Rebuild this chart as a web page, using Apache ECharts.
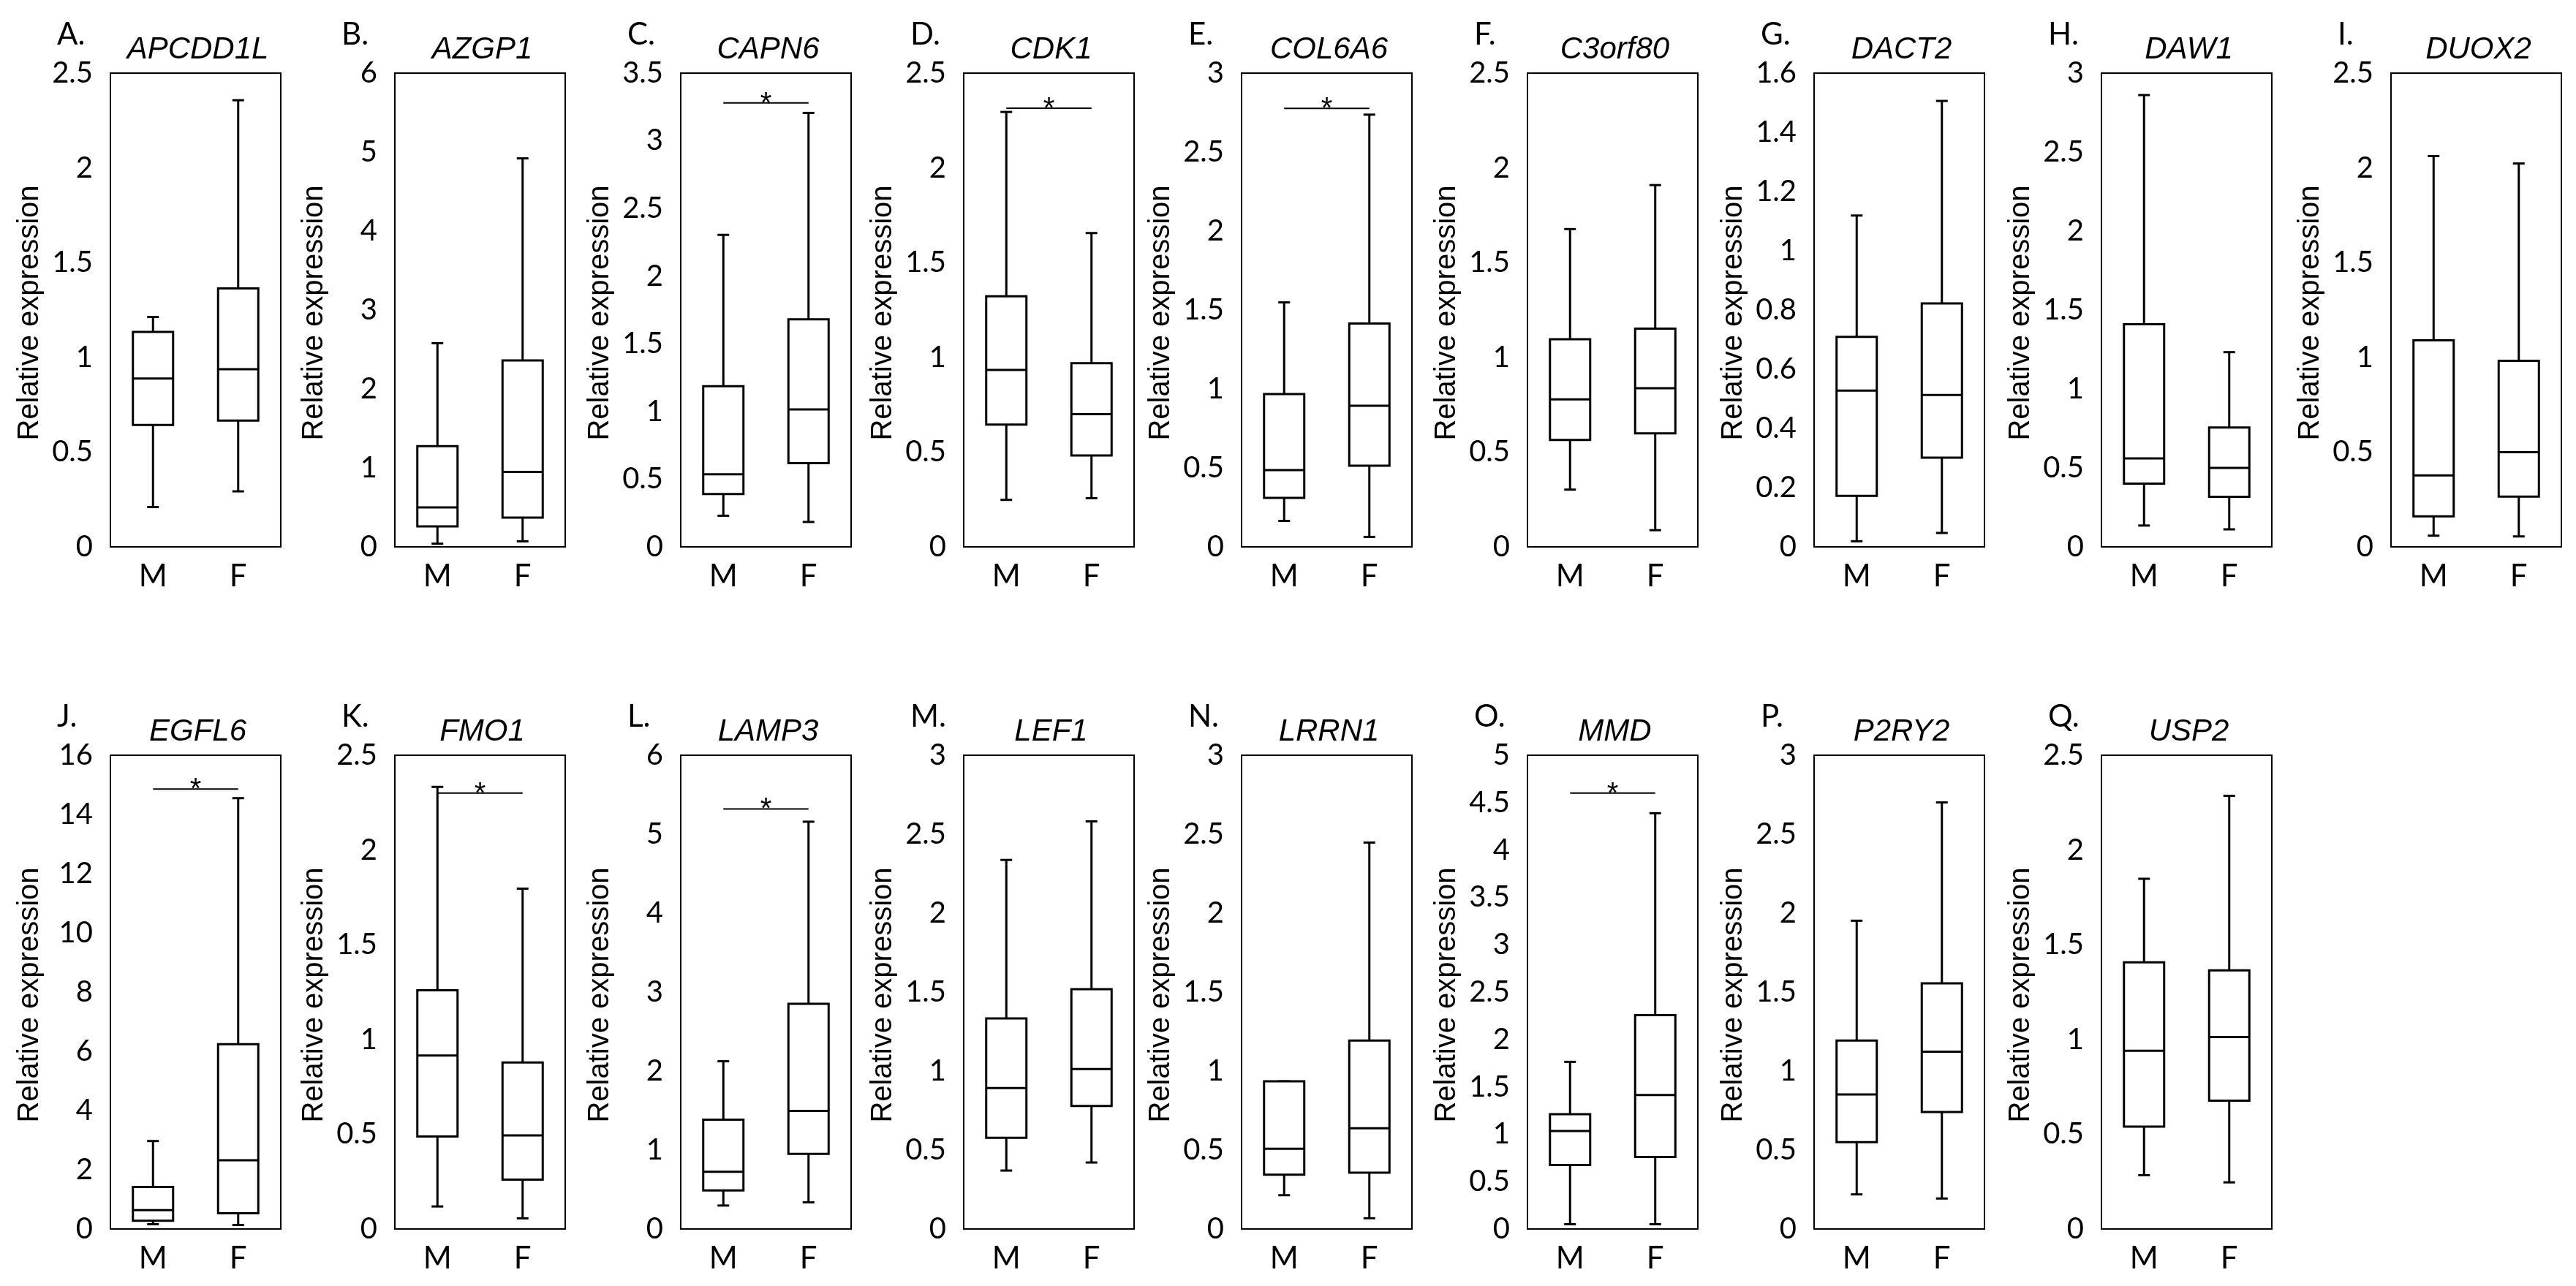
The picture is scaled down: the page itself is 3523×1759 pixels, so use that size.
<!DOCTYPE html>
<html>
<head>
<meta charset="utf-8">
<script src="https://cdn.jsdelivr.net/npm/echarts@6/dist/echarts.min.js"></script>
<style>
html,body{margin:0;padding:0;background:#fff;}
#chart{width:3523px;height:1759px;}
</style>
</head>
<body>
<div id="chart"></div>
<script>
// gene panels, in order A..Q
var letters = ['A','B','C','D','E','F','G','H','I','J','K','L','M','N','O','P','Q'];
var genes = ['APCDD1L','AZGP1','CAPN6','CDK1','COL6A6','C3orf80','DACT2','DAW1','DUOX2',
             'EGFL6','FMO1','LAMP3','LEF1','LRRN1','MMD','P2RY2','USP2'];
var sexes = ['M','F'];

// y axis range per panel
var yMax  = [2.5, 6, 3.5, 2.5, 3, 2.5, 1.6, 3, 2.5, 16, 2.5, 6, 3, 3, 5, 3, 2.5];
var yStep = [0.5, 1, 0.5, 0.5, 0.5, 0.5, 0.2, 0.5, 0.5, 2, 0.5, 1, 0.5, 0.5, 0.5, 0.5, 0.5];

// [low whisker, Q1, median, Q3, high whisker]
var maleBox = [
  [0.21, 0.643, 0.888, 1.134, 1.213],
  [0.04, 0.26, 0.50, 1.275, 2.58],
  [0.23, 0.39, 0.536, 1.187, 2.305],
  [0.248, 0.645, 0.934, 1.322, 2.295],
  [0.164, 0.31, 0.486, 0.968, 1.548],
  [0.302, 0.564, 0.778, 1.096, 1.677],
  [0.019, 0.172, 0.528, 0.709, 1.119],
  [0.135, 0.40, 0.56, 1.41, 2.861],
  [0.059, 0.161, 0.377, 1.09, 2.062],
  [0.16, 0.28, 0.635, 1.42, 2.97],
  [0.119, 0.488, 0.915, 1.26, 2.333],
  [0.297, 0.488, 0.725, 1.384, 2.124],
  [0.37, 0.577, 0.892, 1.333, 2.337],
  [0.214, 0.344, 0.508, 0.935, 0.935],
  [0.05, 0.675, 1.034, 1.211, 1.764],
  [0.219, 0.55, 0.852, 1.193, 1.952],
  [0.284, 0.54, 0.94, 1.407, 1.848]
];
var femaleBox = [
  [0.293, 0.666, 0.9375, 1.364, 2.357],
  [0.07, 0.37, 0.95, 2.36, 4.92],
  [0.184, 0.618, 1.016, 1.681, 3.206],
  [0.257, 0.482, 0.70, 0.969, 1.656],
  [0.063, 0.514, 0.893, 1.414, 2.737],
  [0.088, 0.599, 0.837, 1.152, 1.909],
  [0.047, 0.301, 0.513, 0.822, 1.506],
  [0.111, 0.317, 0.50, 0.756, 1.233],
  [0.055, 0.265, 0.50, 0.982, 2.023],
  [0.135, 0.53, 2.32, 6.24, 14.55],
  [0.056, 0.26, 0.494, 0.879, 1.796],
  [0.337, 0.951, 1.495, 2.853, 5.158],
  [0.421, 0.779, 1.013, 1.518, 2.581],
  [0.068, 0.357, 0.638, 1.193, 2.447],
  [0.05, 0.76, 1.414, 2.257, 4.388],
  [0.193, 0.741, 1.123, 1.555, 2.701],
  [0.246, 0.677, 1.013, 1.365, 2.286]
];

// height of the significance bar (null = none)
var sigLevel = [null, null, 3.28, 2.315, 2.777, null, null, null, null,
                14.86, 2.3, 5.32, null, null, 4.6, null, null];

// layout
var colLeft = [151, 540, 931, 1318, 1698, 2089, 2481, 2874, 3270];
var rowTop = [100, 1033];
var plotW = 233, plotH = 648;

var chart = echarts.init(document.getElementById('chart'));

function seg(x1, y1, x2, y2, w){
  return {type:'line', shape:{x1:x1, y1:y1, x2:x2, y2:y2}, style:{stroke:'#000', lineWidth:w || 3}};
}

function renderBox(params, api){
  var x = api.value(0);
  var lo = api.coord([x, api.value(1)]);
  var q1 = api.coord([x, api.value(2)]);
  var md = api.coord([x, api.value(3)]);
  var q3 = api.coord([x, api.value(4)]);
  var hi = api.coord([x, api.value(5)]);
  var cx = lo[0], half = 27.5, cap = 8;
  return {
    type:'group',
    children:[
      seg(cx, q1[1], cx, lo[1]),
      seg(cx, q3[1], cx, hi[1]),
      seg(cx-cap, lo[1], cx+cap, lo[1]),
      seg(cx-cap, hi[1], cx+cap, hi[1]),
      {type:'rect', shape:{x:cx-half, y:q3[1], width:half*2, height:q1[1]-q3[1]},
       style:{stroke:'#000', lineWidth:3, fill:'#fff'}},
      seg(cx-half, md[1], cx+half, md[1])
    ]
  };
}

function renderSig(params, api){
  var a = api.coord([0, api.value(1)]);
  var b = api.coord([1, api.value(1)]);
  return {
    type:'group',
    children:[
      seg(a[0], a[1], b[0], b[1], 2),
      {type:'text', x:(a[0]+b[0])/2, y:a[1]+22,
       style:{text:'*', fill:'#000', font:'40px "Liberation Sans", Arial', align:'center', verticalAlign:'bottom'}}
    ]
  };
}

var grids = [], xAxes = [], yAxes = [], series = [], graphics = [];
for (var i = 0; i < genes.length; i++){
  var row = i < 9 ? 0 : 1;
  var col = i < 9 ? i : i - 9;
  var gLeft = colLeft[col], gTop = rowTop[row];
  grids.push({left:gLeft, top:gTop, width:plotW, height:plotH, show:true,
              borderColor:'#000', borderWidth:2});
  xAxes.push({
    gridIndex:i, type:'category', data:sexes,
    axisLine:{show:false}, axisTick:{show:false},
    axisLabel:{fontFamily:'Lato', fontSize:42, color:'#000', margin:19}
  });
  yAxes.push({
    gridIndex:i, type:'value', min:0, max:yMax[i], interval:yStep[i],
    axisLine:{show:false}, axisTick:{show:false}, splitLine:{show:false},
    axisLabel:{fontFamily:'Lato', fontSize:40, color:'#000', margin:24,
      formatter:function(v){ return String(parseFloat(v.toFixed(2))); }},
    name:'Relative expression', nameLocation:'middle', nameGap:90,
    nameTextStyle:{fontFamily:'Liberation Sans', fontSize:40, color:'#000', padding:[0,8,0,0]}
  });
  series.push({
    type:'custom', xAxisIndex:i, yAxisIndex:i, silent:true,
    renderItem:renderBox,
    encode:{x:0, y:[1,2,3,4,5]},
    data:[[0].concat(maleBox[i]), [1].concat(femaleBox[i])]
  });
  if (sigLevel[i] !== null){
    series.push({
      type:'custom', xAxisIndex:i, yAxisIndex:i, silent:true,
      renderItem:renderSig,
      encode:{x:0, y:1},
      data:[[0, sigLevel[i]]]
    });
  }
  // panel letter and gene name
  graphics.push({type:'text', x:gLeft-73, y:gTop-32,
    style:{text:letters[i]+'.', font:'42px Lato', fill:'#000', verticalAlign:'bottom'}});
  graphics.push({type:'text', x:gLeft+plotW/2+3, y:gTop-11,
    style:{text:genes[i], font:'italic 42px "Liberation Sans"', fill:'#000', align:'center', verticalAlign:'bottom'}});
}

var option = {
  backgroundColor:'#fff',
  animation:false,
  grid:grids,
  xAxis:xAxes,
  yAxis:yAxes,
  series:series,
  graphic:graphics
};
chart.setOption(option);
</script>
</body>
</html>
